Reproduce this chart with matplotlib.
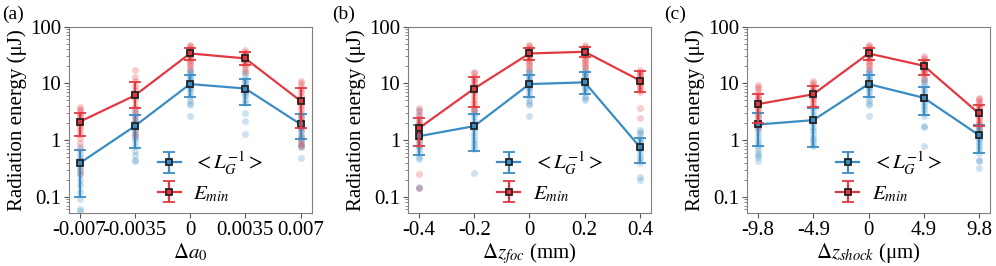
import numpy as np
import matplotlib
matplotlib.use('Agg')
import matplotlib.pyplot as plt

plt.rcParams['font.family'] = ['Liberation Serif', 'DejaVu Serif']
plt.rcParams['mathtext.fontset'] = 'stix'
plt.rcParams['font.size'] = 15

blue = '#3a8cc4'
red = '#e2393f'

# ---------- panel (a): delta a0 ----------
xa = [-0.007, -0.0035, 0, 0.0035, 0.007]
xa_labels = ['-0.007', '-0.0035', '0', '0.0035', '0.007']
a_lg = [0.39, 1.76, 9.7, 8.1, 1.9]
a_lg_hi = [0.66, 2.8, 14, 11.7, 2.9]
a_lg_lo = [0.10, 0.72, 5.8, 4.2, 1.05]
a_em = [2.1, 6.1, 33.6, 27.5, 4.9]
a_em_hi = [3.0, 10.6, 42, 36, 8.3]
a_em_lo = [1.17, 3.6, 25.6, 21, 1.6]
a_lg_pts = [
    [0.75, 0.6, 0.5, 0.45, 0.4, 0.35, 0.3, 0.25, 0.2, 0.16, 0.12, 0.09, 0.06, 0.055],
    [3.5, 3, 2.6, 2.2, 2, 1.7, 1.5, 1.3, 1.1, 0.95, 0.8, 0.65, 0.55, 0.45, 0.43],
    [17, 16, 15, 14, 13, 12, 11, 10, 9, 8.5, 8, 7, 6, 5, 4.5, 4.2, 2.7],
    [16, 14, 12, 11, 10, 9, 8, 7, 6.5, 6, 5, 4.5, 3, 2.2, 1.3],
    [2.8, 2.5, 2.2, 2, 1.8, 1.6, 1.4, 1.2, 1.1, 1, 0.9, 0.8, 0.75, 0.48],
]
a_em_pts = [
    [3.8, 3.5, 3.2, 3.0, 2.8, 2.5, 2.3, 2.1, 1.9, 1.7, 1.5, 1.3, 1.1, 0.9, 0.7, 0.45, 0.3, 0.25],
    [17, 13, 11, 9, 7.5, 6, 5, 4, 3.5, 3, 2.6, 2.3, 2, 1.8, 1.5, 1.3, 1.2],
    [48, 45, 42, 40, 38, 36, 34, 32, 30, 28, 26, 24, 22, 20, 18],
    [38, 36, 34, 32, 30, 28, 26, 24, 22, 20, 18, 16],
    [11, 10, 9, 8, 7, 6, 5, 4.5, 4, 3.5, 3, 2.5, 2.2, 2, 1.7, 1.5, 1.2, 1, 0.85, 0.78],
]

# ---------- panel (b): delta z_foc ----------
xb = [-0.4, -0.2, 0, 0.2, 0.4]
xb_labels = ['-0.4', '-0.2', '0', '0.2', '0.4']
b_lg = [1.17, 1.76, 9.7, 10.4, 0.75]
b_lg_hi = [1.83, 2.9, 14, 16, 1.09]
b_lg_lo = [0.54, 0.64, 5.8, 6.4, 0.39]
b_em = [1.62, 8.1, 33.6, 36, 11.2]
b_em_hi = [2.4, 12.7, 42, 44, 16.4]
b_em_lo = [0.79, 3.76, 25.6, 29, 7.1]
b_lg_pts = [
    [3.4, 2.8, 2.3, 1.9, 1.6, 1.4, 1.2, 1.05, 0.9, 0.8, 0.7, 0.6, 0.5, 0.46, 0.15, 0.14],
    [3.4, 3, 2.6, 2.2, 1.9, 1.6, 1.4, 1.2, 1.0, 0.9, 0.8, 0.7, 0.26],
    [17, 16, 15, 14, 13, 12, 11, 10, 9, 8.5, 8, 7, 6, 5, 4.5, 4.2, 2.7],
    [17, 16, 15, 14, 13, 12, 11, 10, 9, 8.5, 8, 7, 6, 5.5, 5],
    [1.5, 1.4, 1.3, 1.1, 1.0, 0.9, 0.8, 0.7, 0.6, 0.5, 0.45, 0.4, 0.22, 0.2],
]
b_em_pts = [
    [3.6, 3.2, 2.8, 2.4, 2.1, 1.9, 1.7, 1.5, 1.3, 1.1, 0.95, 0.8, 0.25, 0.14],
    [16, 15, 13, 12, 11, 10, 9, 8, 7, 6, 5, 4.5, 4, 3.5, 3.2],
    [48, 45, 42, 40, 38, 36, 34, 32, 30, 28, 26, 24, 22, 20, 18],
    [47, 44, 42, 40, 38, 36, 34, 32, 30, 28, 26, 24, 22, 20, 19],
    [17, 16, 15, 14, 13, 12, 11, 10, 9, 8.5, 7.5, 7, 3.7, 2.4],
]

# ---------- panel (c): delta z_shock ----------
xc = [-9.8, -4.9, 0, 4.9, 9.8]
xc_labels = ['-9.8', '-4.9', '0', '4.9', '9.8']
c_lg = [1.88, 2.24, 9.7, 5.55, 1.22]
c_lg_hi = [2.94, 3.7, 14, 8.5, 1.83]
c_lg_lo = [0.78, 0.76, 5.8, 2.75, 0.6]
c_em = [4.3, 6.4, 33.6, 20.4, 2.94]
c_em_hi = [6.45, 8.9, 42, 25.7, 4.1]
c_em_lo = [2.0, 3.76, 25.6, 14, 1.75]
c_lg_pts = [
    [3.0, 2.6, 2.2, 1.9, 1.6, 1.4, 1.2, 1.0, 0.9, 0.8, 0.7, 0.6, 0.55, 0.5, 0.42],
    [3.8, 3.2, 2.8, 2.4, 2.0, 1.7, 1.5, 1.3, 1.1, 1.0, 0.9, 0.8],
    [17, 16, 15, 14, 13, 12, 11, 10, 9, 8.5, 8, 7, 6, 5, 4.5, 4.2, 2.7],
    [12, 11, 10, 9, 8, 7, 6, 5, 4.5, 4, 3.5, 3, 2.6, 1.8, 1.7, 0.8],
    [1.9, 1.7, 1.5, 1.4, 1.3, 1.2, 1.1, 1.0, 0.9, 0.8, 0.7, 0.6, 0.45, 0.42, 0.32],
]
c_em_pts = [
    [9.2, 8.5, 7.8, 7, 6.3, 5.7, 5.2, 4.8, 4.4, 4, 3.6, 3.2, 2.8, 2.4, 2.1, 1.8, 1.6],
    [11, 10, 9.5, 8.5, 7.5, 7, 6.5, 6, 5.5, 5, 4.5, 4],
    [48, 45, 42, 40, 38, 36, 34, 32, 30, 28, 26, 24, 22, 20, 18],
    [30, 28, 26, 24, 22, 20, 19, 18, 17, 16, 15, 14, 12],
    [5.5, 5.2, 4.8, 4.5, 4.2, 3.9, 3.6, 3.3, 3.0, 2.7, 2.4, 2.2, 2.0, 1.8, 1.6],
]

panels = [
    ('(a)', xa, xa_labels, r'$\Delta a_0$', a_lg, a_lg_lo, a_lg_hi, a_em, a_em_lo, a_em_hi, a_lg_pts, a_em_pts),
    ('(b)', xb, xb_labels, r'$\Delta z_{foc}$ (mm)', b_lg, b_lg_lo, b_lg_hi, b_em, b_em_lo, b_em_hi, b_lg_pts, b_em_pts),
    ('(c)', xc, xc_labels, r'$\Delta z_{shock}$ (μm)', c_lg, c_lg_lo, c_lg_hi, c_em, c_em_lo, c_em_hi, c_lg_pts, c_em_pts),
]

fig = plt.figure(figsize=(9.96, 2.66), dpi=100)
lefts = [0.0688, 0.4096, 0.75]
tag_x = [0.002, 0.333, 0.667]

for i, (tag, x, xlabels, xlabel, lg, lg_lo, lg_hi, em, em_lo, em_hi, lg_pts, em_pts) in enumerate(panels):
    ax = fig.add_axes([lefts[i], 0.198, 0.244, 0.702])
    # raw samples
    for xi, pts in zip(x, lg_pts):
        ax.plot([xi] * len(pts), pts, 'o', color=blue, alpha=0.25, ms=5, mew=0, zorder=1)
    for xi, pts in zip(x, em_pts):
        ax.plot([xi] * len(pts), pts, 'o', color=red, alpha=0.25, ms=5, mew=0, zorder=1)
    # means with error bars
    lg = np.array(lg)
    em = np.array(em)
    yerr_lg = [lg - np.array(lg_lo), np.array(lg_hi) - lg]
    yerr_em = [em - np.array(em_lo), np.array(em_hi) - em]
    ax.errorbar(x, lg, yerr=yerr_lg, color=blue, lw=1.6, capsize=4, capthick=1.6,
                marker='s', ms=5, mfc=blue, mec='#222222', mew=1.3, zorder=3,
                label=r'$<L_G^{-1}>$')
    ax.errorbar(x, em, yerr=yerr_em, color=red, lw=1.6, capsize=4, capthick=1.6,
                marker='s', ms=5, mfc=red, mec='#222222', mew=1.3, zorder=4,
                label=r'$E_{min}$')
    ax.set_yscale('log')
    ax.set_ylim(0.051, 100)
    ax.set_yticks([0.1, 1, 10, 100])
    ax.set_yticklabels(['0.1', '1', '10', '100'])
    ax.set_xticks(x)
    ax.set_xticklabels(xlabels)
    ax.set_xlabel(xlabel, labelpad=1)
    ax.set_ylabel('Radiation energy (μJ)', labelpad=2)
    for s in ax.spines.values():
        s.set_color('#808080')
    ax.tick_params(which='major', length=3.5, width=0.8, color='#555555', pad=2)
    ax.tick_params(which='minor', length=2, width=0.6, color='#777777')
    ax.legend(loc='lower left', bbox_to_anchor=(0.29, -0.05), frameon=False,
              fontsize=15, handlelength=1.1, handletextpad=0.6, labelspacing=0.35)
    fig.text(tag_x[i], 0.98, tag, ha='left', va='top', fontsize=14)

fig.savefig('out.png', dpi=100)
